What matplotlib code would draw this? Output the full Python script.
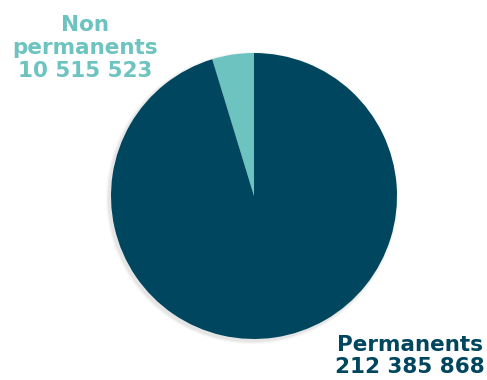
import matplotlib.pyplot as plt
from matplotlib.patches import Circle

labels = ["Non\npermanents", "Permanents"]
values = [10515523, 212385868]
colors = ["#6CC3BF", "#00465F"]


def fmt(v):
    return f"{v:,}".replace(",", " ")


def main():
    fig = plt.figure(figsize=(4.87, 3.80), dpi=100)
    ax = fig.add_axes([0, 0, 1, 1])

    cx, cy, r = 254, 184, 143
    # faint shadow
    for i, a in enumerate([0.03, 0.03, 0.04]):
        ax.add_patch(Circle((cx - 2, cy - 2), r + 3 - i, color="black", alpha=a, lw=0))

    ax.pie(values, colors=colors, startangle=90, counterclock=True,
           center=(cx, cy), radius=r, frame=True,
           wedgeprops=dict(linewidth=0))
    ax.set_xlim(0, 487)
    ax.set_ylim(0, 380)
    ax.set_aspect("equal")
    ax.axis("off")

    ax.text(85, 332, labels[0] + "\n" + fmt(values[0]), color=colors[0],
            fontsize=15.5, fontweight="bold", ha="center", va="center",
            family="DejaVu Sans", linespacing=1.18)
    ax.text(410, 24, labels[1] + "\n" + fmt(values[1]), color=colors[1],
            fontsize=15.5, fontweight="bold", ha="center", va="center",
            family="DejaVu Sans", linespacing=1.18)

    fig.savefig("out.png", dpi=100)


if __name__ == '__main__':
    main()
